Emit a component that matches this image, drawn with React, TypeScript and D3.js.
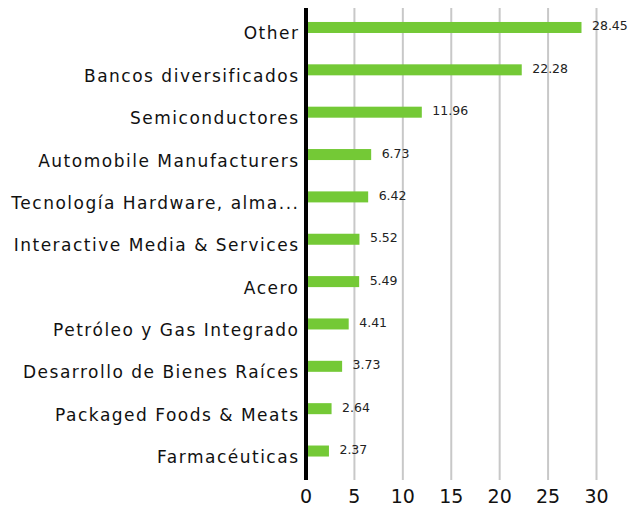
import * as d3 from "d3";
import { useEffect, useRef } from "react";

const categories = [
  "Other",
  "Bancos diversificados",
  "Semiconductores",
  "Automobile Manufacturers",
  "Tecnología Hardware, alma...",
  "Interactive Media & Services",
  "Acero",
  "Petróleo y Gas Integrado",
  "Desarrollo de Bienes Raíces",
  "Packaged Foods & Meats",
  "Farmacéuticas",
];

const values = [28.45, 22.28, 11.96, 6.73, 6.42, 5.52, 5.49, 4.41, 3.73, 2.64, 2.37];

const ticks = [0, 5, 10, 15, 20, 25, 30];

const width = 630;
const height = 508;
const font = "'DejaVu Sans', sans-serif";

export default function App() {
  const ref = useRef<SVGSVGElement>(null);

  useEffect(() => {
    if (!ref.current) return;
    const svg = d3.select(ref.current);
    svg.selectAll("*").remove();

    const x = d3.scaleLinear().domain([0, 30]).range([306, 596.5]);
    const y = d3
      .scaleBand<string>()
      .domain(categories)
      .range([6.3, 472.2])
      .paddingInner(0.74)
      .paddingOuter(0.37);

    // grid
    svg
      .append("g")
      .selectAll("line")
      .data(ticks.slice(1))
      .enter()
      .append("line")
      .attr("x1", (d) => x(d))
      .attr("x2", (d) => x(d))
      .attr("y1", 8)
      .attr("y2", 480)
      .attr("stroke", "#c8c8c8")
      .attr("stroke-width", 2);

    // bars
    svg
      .append("g")
      .selectAll("rect")
      .data(values)
      .enter()
      .append("rect")
      .attr("x", x(0))
      .attr("y", (_, i) => y(categories[i])!)
      .attr("width", (d) => x(d) - x(0))
      .attr("height", y.bandwidth())
      .attr("fill", "#74c936");

    // value labels
    svg
      .append("g")
      .selectAll("text")
      .data(values)
      .enter()
      .append("text")
      .attr("x", (d) => x(d) + 10.5)
      .attr("y", (_, i) => y(categories[i])! + y.bandwidth() / 2 + 3)
      .attr("font-family", font)
      .attr("font-size", 12.5)
      .attr("fill", "#222")
      .text((d) => d.toFixed(2));

    // category labels
    svg
      .append("g")
      .selectAll("text")
      .data(categories)
      .enter()
      .append("text")
      .attr("x", 299.5)
      .attr("y", (d) => y(d)! + y.bandwidth() / 2 + 12)
      .attr("text-anchor", "end")
      .attr("font-family", font)
      .attr("font-size", 17)
      .attr("letter-spacing", 1.5)
      .attr("fill", "#111")
      .text((d) => d);

    // axis line
    svg
      .append("line")
      .attr("x1", x(0))
      .attr("x2", x(0))
      .attr("y1", 8)
      .attr("y2", 480)
      .attr("stroke", "#000")
      .attr("stroke-width", 4);

    // tick labels
    svg
      .append("g")
      .selectAll("text")
      .data(ticks)
      .enter()
      .append("text")
      .attr("x", (d) => x(d))
      .attr("y", 503)
      .attr("text-anchor", "middle")
      .attr("font-family", font)
      .attr("font-size", 19)
      .attr("fill", "#111")
      .text((d) => d);
  }, []);

  return (
    <svg
      ref={ref}
      width={width}
      height={height}
      style={{ position: "absolute", left: 0, top: 0 }}
    />
  );
}
